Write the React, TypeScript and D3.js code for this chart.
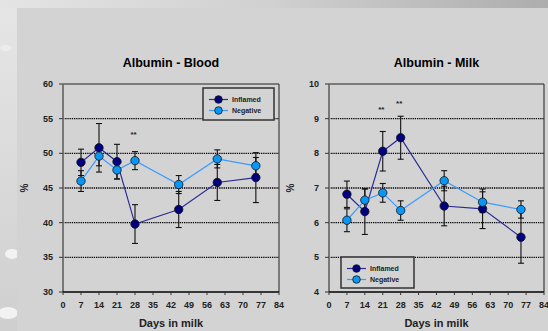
import React from "react";
import * as d3 from "d3";

const days = [7, 14, 21, 28, 45, 60, 75];
const xTicks = [0, 7, 14, 21, 28, 35, 42, 49, 56, 63, 70, 77, 84];

// Albumin - Blood
const bloodInflamed = [48.7, 50.8, 48.8, 39.8, 41.9, 45.8, 46.5];
const bloodInflamedErr = [1.9, 3.5, 2.5, 2.8, 2.6, 2.6, 3.6];
const bloodNegative = [46.0, 49.6, 47.6, 48.95, 45.5, 49.2, 48.2];
const bloodNegativeErr = [1.5, 1.4, 1.3, 1.3, 1.3, 1.3, 1.2];
const bloodTicks = [30, 35, 40, 45, 50, 55, 60];
const bloodStars = [{ day: 28, value: 52.9 }];

// Albumin - Milk
const milkInflamed = [6.82, 6.32, 8.06, 8.45, 6.48, 6.4, 5.58];
const milkInflamedErr = [0.38, 0.66, 0.57, 0.62, 0.57, 0.57, 0.75];
const milkNegative = [6.07, 6.65, 6.86, 6.35, 7.21, 6.59, 6.38];
const milkNegativeErr = [0.33, 0.32, 0.27, 0.28, 0.29, 0.3, 0.25];
const milkTicks = [4, 5, 6, 7, 8, 9, 10];
const milkStars = [
  { day: 21, value: 9.3 },
  { day: 28, value: 9.48 },
];

const font = "'Liberation Sans', Arial, sans-serif";
const inflamedFill = "#000080";
const inflamedLine = "#2b2b95";
const negativeFill = "#0a96f5";
const negativeLine = "#3a9cff";

function Panel({ title, left, right, top, bottom, yMin, yMax, ticks, inflamed, inflamedErr, negative, negativeErr, stars, legend }) {
  const x = d3.scaleLinear().domain([0, 84]).range([left, right]);
  const y = d3.scaleLinear().domain([yMin, yMax]).range([bottom, top]);
  const line = d3.line<number>().x((d, i) => x(days[i])).y((d) => y(d));

  const series = [
    { name: "Inflamed", vals: inflamed, err: inflamedErr, fill: inflamedFill, stroke: inflamedLine },
    { name: "Negative", vals: negative, err: negativeErr, fill: negativeFill, stroke: negativeLine },
  ];
  const cx = (left + right) / 2;

  return (
    <g>
      <text x={cx} y={67} textAnchor="middle" fontFamily={font} fontWeight="bold" fontSize={12.5} fill="#000">
        {title}
      </text>
      {/* grid */}
      {ticks.slice(1, -1).map((t) => (
        <line key={t} x1={left} x2={right} y1={y(t)} y2={y(t)} stroke="#000" strokeWidth={1.3} strokeDasharray="1.3,0.9" />
      ))}
      {/* frame */}
      <line x1={left} x2={right} y1={top} y2={top} stroke="#222" strokeWidth={1} />
      <line x1={right} x2={right} y1={top} y2={bottom} stroke="#222" strokeWidth={1} />
      <line x1={left} x2={left} y1={top} y2={bottom} stroke="#777" strokeWidth={2} />
      <line x1={left} x2={right} y1={bottom} y2={bottom} stroke="#000" strokeWidth={1.5} />
      {ticks.map((t) => (
        <g key={t}>
          <line x1={left - 4} x2={left} y1={y(t)} y2={y(t)} stroke="#333" strokeWidth={1} />
          <text x={left - 10} y={y(t) + 3} textAnchor="end" fontFamily={font} fontWeight="bold" fontSize={9} fill="#222">
            {t}
          </text>
        </g>
      ))}
      {xTicks.map((t) => (
        <g key={t}>
          <line x1={x(t)} x2={x(t)} y1={bottom} y2={bottom + 3} stroke="#333" strokeWidth={1} />
          <text x={x(t)} y={bottom + 16} textAnchor="middle" fontFamily={font} fontWeight="bold" fontSize={9} fill="#222">
            {t}
          </text>
        </g>
      ))}
      <text x={cx} y={327} textAnchor="middle" fontFamily={font} fontWeight="bold" fontSize={11} fill="#222">
        Days in milk
      </text>
      <text
        transform={`translate(${left - 35},${(top + bottom) / 2}) rotate(-90)`}
        textAnchor="middle"
        fontFamily={font}
        fontWeight="bold"
        fontSize={10}
        fill="#222"
      >
        %
      </text>
      {/* error bars */}
      {series.map((s) =>
        s.vals.map((v, i) => (
          <g key={s.name + i} stroke="#111" strokeWidth={1.1}>
            <line x1={x(days[i])} x2={x(days[i])} y1={y(v - s.err[i])} y2={y(v + s.err[i])} />
            <line x1={x(days[i]) - 3} x2={x(days[i]) + 3} y1={y(v - s.err[i])} y2={y(v - s.err[i])} />
            <line x1={x(days[i]) - 3} x2={x(days[i]) + 3} y1={y(v + s.err[i])} y2={y(v + s.err[i])} />
          </g>
        ))
      )}
      {/* lines + markers */}
      {series.map((s) => (
        <g key={s.name}>
          <path d={line(s.vals) || ""} fill="none" stroke={s.stroke} strokeWidth={1.2} />
          {s.vals.map((v, i) => (
            <circle key={i} cx={x(days[i])} cy={y(v)} r={4.2} fill={s.fill} stroke="#111" strokeWidth={0.8} />
          ))}
        </g>
      ))}
      {stars.map((s, i) => (
        <text key={i} x={x(s.day) - 1.5} y={y(s.value) + 4} textAnchor="middle" fontFamily={font} fontWeight="bold" fontSize={8} fill="#222">
          **
        </text>
      ))}
      {/* legend */}
      <g transform={`translate(${legend.x},${legend.y})`}>
        <rect x={0} y={0} width={legend.w} height={legend.h} fill="#d3d3d3" stroke="#333" strokeWidth={1.5} />
        {series.map((s, i) => (
          <g key={s.name} transform={`translate(0,${11.5 + i * 11})`}>
            <line x1={6} x2={25} y1={0} y2={0} stroke={s.stroke} strokeWidth={1.2} />
            <circle cx={15.5} cy={0} r={3.8} fill={s.fill} stroke="#111" strokeWidth={0.8} />
            <text x={29} y={2.5} fontFamily={font} fontWeight="bold" fontSize={7} fill="#222">
              {s.name}
            </text>
          </g>
        ))}
      </g>
    </g>
  );
}

export default function App() {
  return (
    <svg width={548} height={331} style={{ position: "absolute", left: 0, top: 0 }}>
      <defs>
        <linearGradient id="topbar" x1="0" x2="1" y1="0" y2="0">
          <stop offset="0" stopColor="#e4e4e4" />
          <stop offset="0.5" stopColor="#d0d0d0" />
          <stop offset="1" stopColor="#adadad" />
        </linearGradient>
        <linearGradient id="leftbar" x1="0" x2="0" y1="0" y2="1">
          <stop offset="0" stopColor="#e6e6e6" />
          <stop offset="1" stopColor="#cfcfcf" />
        </linearGradient>
      </defs>
      <rect x={0} y={0} width={548} height={331} fill="url(#leftbar)" />
      <rect x={0} y={0} width={548} height={8} fill="url(#topbar)" />
      <ellipse cx={12} cy={254} rx={7} ry={5} fill="#f2f2f2" />
      <ellipse cx={8} cy={313} rx={10} ry={6} fill="#f2f2f2" />
      <ellipse cx={6} cy={48} rx={6} ry={3} fill="#ececec" />
      <rect x={17} y={8} width={531} height={323} fill="#d3d3d3" />
      <Panel
        title="Albumin - Blood"
        left={63}
        right={279}
        top={84}
        bottom={292}
        yMin={30}
        yMax={60}
        ticks={bloodTicks}
        inflamed={bloodInflamed}
        inflamedErr={bloodInflamedErr}
        negative={bloodNegative}
        negativeErr={bloodNegativeErr}
        stars={bloodStars}
        legend={{ x: 203, y: 88, w: 71, h: 32 }}
      />
      <Panel
        title="Albumin - Milk"
        left={329}
        right={544}
        top={84}
        bottom={292}
        yMin={4}
        yMax={10}
        ticks={milkTicks}
        inflamed={milkInflamed}
        inflamedErr={milkInflamedErr}
        negative={milkNegative}
        negativeErr={milkNegativeErr}
        stars={milkStars}
        legend={{ x: 341, y: 257, w: 73, h: 31 }}
      />
    </svg>
  );
}
